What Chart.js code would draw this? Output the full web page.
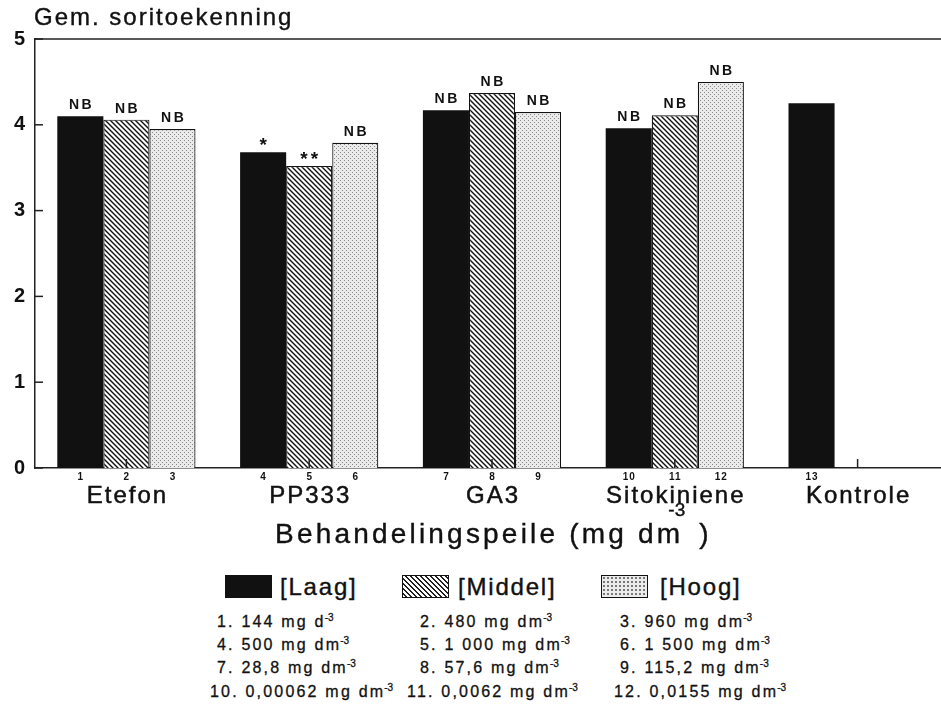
<!DOCTYPE html>
<html><head><meta charset="utf-8">
<script src="https://cdn.jsdelivr.net/npm/chart.js@4/dist/chart.umd.min.js"></script>
<style>
html,body{margin:0;padding:0;background:#fff;overflow:hidden;width:941px;height:708px;}
body{position:relative;font-family:"Liberation Sans",Arial,sans-serif;color:#111;}
#wrap{position:absolute;left:0;top:0;width:960px;height:520px;}
.t{position:absolute;white-space:nowrap;line-height:1;-webkit-text-stroke:0.4px #111;}
#title{left:34px;top:5px;font-size:24px;letter-spacing:2px;}
#xtitle{left:275px;top:520px;font-size:28px;letter-spacing:3.2px;}
#xtitle .sup{position:relative;top:-27px;font-size:19px;margin-left:-15px;margin-right:3px;letter-spacing:0;}
.sw{position:absolute;top:575px;width:47px;height:23px;box-sizing:border-box;border:1.5px solid #111;}
.lt{font-size:24px;letter-spacing:1.8px;top:575px;}
.fn{font-size:16px;letter-spacing:2.2px;-webkit-text-stroke:0.3px #111;}
.fn .s{position:relative;top:-6px;font-size:10px;letter-spacing:0;margin-left:-1px;}
</style>
</head><body>
<div id="wrap"><canvas id="c" width="960" height="520"></canvas></div>
<div class="t" id="title">Gem. soritoekenning</div>
<div class="t" id="xtitle">Behandelingspeile (mg dm<span class="sup">-3</span> )</div>
<div id="legend"></div>
<div id="notes"></div>
<script>
// ---- data ----
const categories = ["Etefon", "PP333", "GA3", "Sitokiniene", "Kontrole"];
const laag   = [4.10, 3.68, 4.17, 3.96, 4.25];
const middel = [4.06, 3.52, 4.37, 4.11, null];
const hoog   = [3.95, 3.79, 4.15, 4.50, null];
const sigLaag   = ["NB", "*", "NB", "NB", ""];
const sigMiddel = ["NB", "**", "NB", "NB", ""];
const sigHoog   = ["NB", "NB", "NB", "NB", ""];
const numLaag   = ["1", "4", "7", "10", "13"];
const numMiddel = ["2", "5", "8", "11", ""];
const numHoog   = ["3", "6", "9", "12", ""];
const seriesNames = ["[Laag]", "[Middel]", "[Hoog]"];
const yTicks = [0, 1, 2, 3, 4, 5];
const notes = [
  ["1. 144 mg d", "2. 480 mg dm", "3. 960 mg dm"],
  ["4. 500 mg dm", "5. 1 000 mg dm", "6. 1 500 mg dm"],
  ["7. 28,8 mg dm", "8. 57,6 mg dm", "9. 115,2 mg dm"],
  ["10. 0,00062 mg dm", "11. 0,0062 mg dm", "12. 0,0155 mg dm"]
];

// ---- patterns ----
function hatchPattern(){
  const s=5, c=document.createElement('canvas'); c.width=s; c.height=s;
  const g=c.getContext('2d'); g.fillStyle='#fff'; g.fillRect(0,0,s,s);
  g.strokeStyle='#111'; g.lineWidth=1.4; g.beginPath();
  g.moveTo(0,0); g.lineTo(s,s);
  g.moveTo(-1,s-1); g.lineTo(1,s+1);
  g.moveTo(s-1,-1); g.lineTo(s+1,1);
  g.stroke();
  return g.createPattern(c,'repeat');
}
function dotPattern(){
  const s=4, c=document.createElement('canvas'); c.width=s; c.height=s;
  const g=c.getContext('2d'); g.fillStyle='#ebebeb'; g.fillRect(0,0,s,s);
  g.fillStyle='#888'; g.fillRect(0,0,1,1); g.fillRect(2,2,1,1);
  return g.createPattern(c,'repeat');
}
const fills=['#111', hatchPattern(), dotPattern()];
const sigs=[sigLaag, sigMiddel, sigHoog];
const nums=[numLaag, numMiddel, numHoog];

// ---- legend & notes (HTML) ----
const swLeft=[225,402,601], ltLeft=[280,458,660];
const swCss=['background:#111',
  'background:repeating-linear-gradient(45deg,#fff 0 2px,#222 2px 3.5px)',
  'background:#ebebeb radial-gradient(#777 0.8px, transparent 1px) 0 0/4px 4px'];
const lg=document.getElementById('legend');
seriesNames.forEach((n,i)=>{
  const sw=document.createElement('div'); sw.className='sw'; sw.style.cssText=swCss[i]+';left:'+swLeft[i]+'px'; lg.appendChild(sw);
  const t=document.createElement('div'); t.className='t lt'; t.style.left=ltLeft[i]+'px'; t.textContent=n; lg.appendChild(t);
});
const colLeft=[[217,420,620],[217,420,620],[217,420,620],[210,407,614]];
const rowTop=[614,637,660,684];
const nt=document.getElementById('notes');
notes.forEach((row,r)=>row.forEach((txt,ci)=>{
  const d=document.createElement('div'); d.className='t fn';
  d.style.left=colLeft[r][ci]+'px'; d.style.top=rowTop[r]+'px';
  d.appendChild(document.createTextNode(txt));
  const s=document.createElement('span'); s.className='s'; s.textContent='-3'; d.appendChild(s);
  nt.appendChild(d);
}));

// ---- plugin ----
const FONT='"Liberation Sans", Arial, sans-serif';
const decor={
  id:'decor',
  afterDatasetsDraw(chart){
    const ctx=chart.ctx, a=chart.chartArea, xs=chart.scales.x, ys=chart.scales.y;
    ctx.save();
    ctx.strokeStyle='#222'; ctx.lineWidth=1.5;
    ctx.beginPath(); ctx.moveTo(a.left,a.top); ctx.lineTo(a.right,a.top); ctx.stroke();
    yTicks.forEach(v=>{const py=ys.getPixelForValue(v); ctx.beginPath(); ctx.moveTo(a.left,py); ctx.lineTo(a.left+8,py); ctx.stroke();});
    categories.forEach((c,i)=>{const px=xs.getPixelForValue(i); ctx.beginPath(); ctx.moveTo(px,a.bottom); ctx.lineTo(px,a.bottom-9); ctx.stroke();});
    ctx.fillStyle='#111'; ctx.textAlign='center';
    chart.data.datasets.forEach((ds,di)=>{
      const meta=chart.getDatasetMeta(di);
      meta.data.forEach((bar,i)=>{
        if(ds.data[i]==null) return;
        const s=sigs[di][i];
        if(s){
          if(s.indexOf('*')>=0){
            ctx.font='bold 19px '+FONT; ctx.letterSpacing='3px';
            ctx.textBaseline='alphabetic'; ctx.fillText(s,bar.x+1.5,bar.y-1);
          } else {
            ctx.font='bold 14px '+FONT; ctx.letterSpacing='2.5px';
            ctx.textBaseline='alphabetic'; ctx.fillText(s,bar.x+1.2,bar.y-7);
          }
        }
        const n=nums[di][i];
        if(n){
          ctx.font='bold 10px '+FONT; ctx.letterSpacing='1px';
          ctx.textBaseline='middle'; ctx.fillText(n,bar.x+0.5,a.bottom+9);
        }
      });
    });
    ctx.font='24px '+FONT; ctx.letterSpacing='2px'; ctx.textBaseline='middle';
    ctx.strokeStyle='#111'; ctx.lineWidth=0.5;
    categories.forEach((c,i)=>{const px=xs.getPixelForValue(i)+1; ctx.fillText(c, px, a.bottom+28); ctx.strokeText(c, px, a.bottom+28);});
    ctx.restore();
  }
};

new Chart(document.getElementById('c'),{
  type:'bar',
  data:{labels:categories, datasets:seriesNames.map((n,i)=>({
    label:n, data:[laag,middel,hoog][i], backgroundColor:fills[i], borderColor:'#111',
    borderWidth: i===0?0:1.2, categoryPercentage:0.756, barPercentage:1.0
  }))},
  options:{
    responsive:false, animation:false, devicePixelRatio:1,
    layout:{padding:{top:39,right:11,left:0,bottom:0}},
    plugins:{legend:{display:false}, title:{display:false}, tooltip:{enabled:false}},
    scales:{
      x:{grid:{display:false}, border:{display:true,color:'#222',width:1.5},
         ticks:{display:false}, afterFit(s){s.height=52;}},
      y:{min:0,max:5, grid:{display:false,drawTicks:false}, border:{display:true,color:'#222',width:1.5},
         afterBuildTicks(s){s.ticks=yTicks.map(v=>({value:v}));},
         ticks:{color:'#111',padding:10,font:{family:FONT,size:20,weight:'bold'}},
         afterFit(s){s.width=35;}}
    }
  },
  plugins:[decor]
});
</script>
</body></html>
